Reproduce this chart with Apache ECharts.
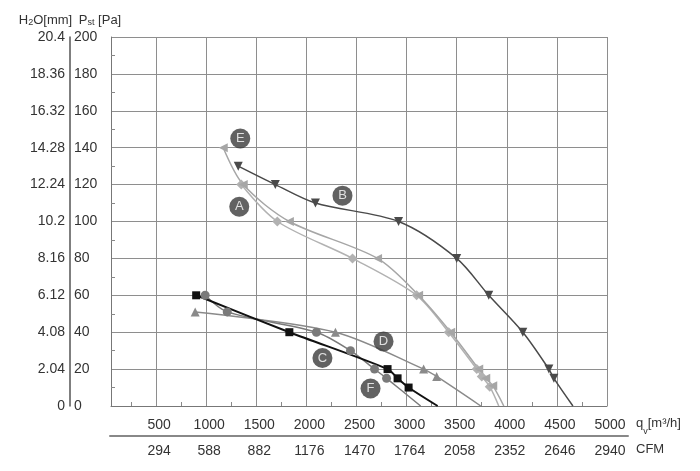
<!DOCTYPE html>
<html>
<head>
<meta charset="utf-8">
<script src="https://cdn.jsdelivr.net/npm/echarts@6/dist/echarts.min.js"></script>
<style>
html,body{margin:0;padding:0;background:#fff;}
#main{width:700px;height:471px;}
</style>
</head>
<body>
<div id="main"></div>
<script>
// tick labels
var qvTicks = [500, 1000, 1500, 2000, 2500, 3000, 3500, 4000, 4500, 5000];
var cfmTicks = [294, 588, 882, 1176, 1470, 1764, 2058, 2352, 2646, 2940];
var mmTicks = ['0', '2.04', '4.08', '6.12', '8.16', '10.2', '12.24', '14.28', '16.32', '18.36', '20.4'];

// curves [qv m3/h, Pst Pa]
var curveA = [[1350,120],[1710,100],[2460,80],[3100,60],[3420,40],[3700,20],[3750,16],[3830,10.5],[3920,0]];
var curveB = [[1320,130],[1690,120],[2090,110],[2920,100],[3500,80],[3820,60],[4160,40],[4420,20],[4470,15],[4660,0]];
var curveC = [[900,60],[1830,40],[2810,20],[2910,15],[3020,10],[3310,0]];
var curveD = [[890,51],[2290,40],[3170,20],[3300,16],[3740,0]];
var curveE = [[1170,140],[1370,120],[1830,100],[2710,80],[3120,60],[3440,40],[3720,20],[3790,15],[3860,11],[3970,0]];
var curveF = [[990,60],[1210,51],[2100,40],[2440,30],[2680,20],[2800,15],[3140,0]];

// curve tags
var tagNames = ['A', 'B', 'C', 'D', 'E', 'F'];
var tagQ = [1330, 2360, 2160, 2770, 1340, 2640];
var tagP = [108, 114, 26, 35, 145, 9.5];

var txt = '#333';
var font = 'Liberation Sans, Arial, sans-serif';
var gridColor = '#8e8e8e';

// 最后一个点(0 Pa)不画标记
function pts(arr) {
	return arr.map(function(p, i) {
		if (i == arr.length - 1) return { value: p, symbol: 'none' };
		return p;
	});
}

function curve(name, arr, color, symbol, rotate, size, width) {
	return {
		name: name, type: 'line', data: pts(arr),
		smooth: 0.3, symbol: symbol, symbolRotate: rotate, symbolSize: size,
		lineStyle: { color: color, width: width },
		itemStyle: { color: color },
		z: 3
	};
}

var myChart = echarts.init(document.getElementById('main'));

var option = {
	animation: false,
	textStyle: { fontFamily: font },
	grid: [
		{ left: 111, right: 93, top: 37, bottom: 65 },
		{ left: 110, right: 72, top: 420, bottom: 35 }
	],
	xAxis: [
		{
			type: 'value', gridIndex: 0, min: 50, max: 5000, splitNumber: 10,
			axisLine: { show: true, lineStyle: { color: '#777', width: 1 } },
			axisTick: { show: true, inside: true, length: 0.01, lineStyle: { color: gridColor } },
			minorTick: { show: true, splitNumber: 2, length: 4, lineStyle: { color: '#888' } },
			splitLine: { show: true, lineStyle: { color: gridColor, width: 1 } },
			axisLabel: {
				margin: 6, showMinLabel: false, padding: [0, 0, 0, 6],
				formatter: function(v) {
					var i = qvTicks.indexOf(v);
					if (i < 0) return '';
					return '{a|' + qvTicks[i] + '}\n{a|' + cfmTicks[i] + '}';
				},
				rich: { a: { fontSize: 14, lineHeight: 26, color: txt, fontFamily: font } }
			}
		},
		{
			type: 'value', gridIndex: 1, min: 0, max: 1,
			axisLine: { show: true, lineStyle: { color: '#888', width: 2 } },
			axisTick: { show: false }, axisLabel: { show: false }, splitLine: { show: false },
			name: '{q|q}{s|v}{q|[m³/h]}\n{q|CFM}',
			nameLocation: 'end', nameGap: 8,
			nameTextStyle: {
				align: 'left',
				rich: {
					q: { fontSize: 13, lineHeight: 26, color: txt, fontFamily: font },
					s: { fontSize: 9, lineHeight: 26, color: txt, verticalAlign: 'bottom', fontFamily: font }
				}
			}
		}
	],
	yAxis: [
		{
			type: 'value', gridIndex: 0, min: 0, max: 200, interval: 20,
			axisLine: { show: true, lineStyle: { color: '#777', width: 1 } },
			axisTick: { show: true, inside: true, length: 0.01, lineStyle: { color: gridColor } },
			minorTick: { show: true, splitNumber: 2, length: 4, lineStyle: { color: '#888' } },
			splitLine: { show: true, lineStyle: { color: gridColor, width: 1 } },
			axisLabel: { align: 'left', margin: 37, fontSize: 14, color: txt }
		},
		{
			type: 'value', gridIndex: 0, position: 'left', offset: 41, min: 0, max: 200, interval: 20,
			axisLine: { show: true, lineStyle: { color: '#555', width: 1.5 } },
			axisTick: { show: false }, splitLine: { show: false },
			axisLabel: {
				margin: 5, fontSize: 14, color: txt,
				formatter: function(v) { return mmTicks[Math.round(v / 20)]; }
			},
			name: '{n|H}{s|2}{n|O[mm]}  {n|P}{s|st}{n| [Pa]}',
			nameLocation: 'end', nameGap: 10,
			nameTextStyle: {
				align: 'center',
				rich: {
					n: { fontSize: 13, color: txt, fontFamily: font },
					s: { fontSize: 9, color: txt, verticalAlign: 'bottom', fontFamily: font }
				}
			}
		},
		{ type: 'value', gridIndex: 1, show: false, min: 0, max: 1 }
	],
	series: [
		curve('A', curveA, '#b2b2b2', 'diamond', 0, 10, 1.5),
		curve('E', curveE, '#a6a6a6', 'triangle', 90, 9, 1.5),
		curve('D', curveD, '#8a8a8a', 'triangle', 0, 9, 1.5),
		curve('F', curveF, '#7a7a7a', 'circle', 0, 9, 1.5),
		curve('B', curveB, '#4a4a4a', 'triangle', 180, 9, 1.5),
		curve('C', curveC, '#111111', 'rect', 0, 8, 2),
		{
			name: 'tags', type: 'scatter', symbol: 'circle', symbolSize: 20, z: 5,
			itemStyle: { color: '#3b3b3b' },
			data: tagNames.map(function(n, i) { return { name: n, value: [tagQ[i], tagP[i]] }; }),
			label: {
				show: true, position: 'inside', color: '#fff', fontSize: 13, fontFamily: font,
				formatter: function(p) { return p.name; }
			}
		}
	]
};

myChart.setOption(option);
</script>
</body>
</html>
